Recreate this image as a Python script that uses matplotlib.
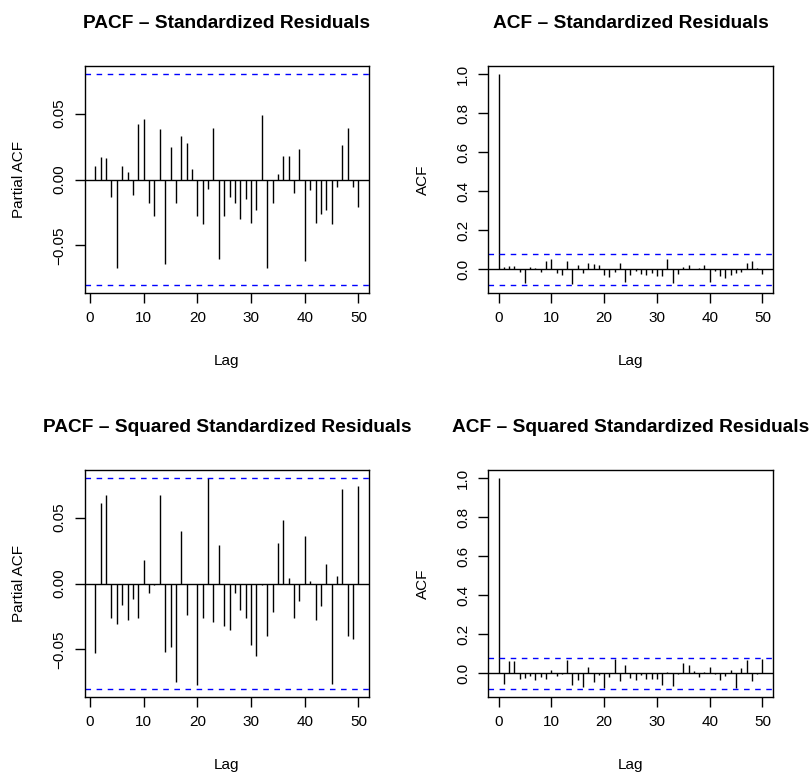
import numpy as np
import matplotlib
matplotlib.use("Agg")
import matplotlib.pyplot as plt

plt.rcParams['font.family'] = ['Liberation Sans', 'DejaVu Sans']

# confidence bound (approx 1.96/sqrt(n))
clim = 0.080

lags_pacf = np.arange(1, 51)
lags_acf = np.arange(0, 51)

pacf_std = [0.010, 0.017, 0.016, -0.013, -0.067, 0.010, 0.006, -0.012, 0.042, 0.046,
            -0.018, -0.028, 0.038, -0.064, 0.025, -0.018, 0.033, 0.028, 0.008, -0.028,
            -0.034, -0.007, 0.039, -0.060, -0.028, -0.013, -0.018, -0.030, -0.015, -0.033,
            -0.023, 0.049, -0.067, -0.018, 0.004, 0.018, 0.018, -0.010, 0.023, -0.062,
            -0.008, -0.033, -0.026, -0.023, -0.034, -0.006, 0.026, 0.039, -0.006, -0.021]

acf_std = [1.0, 0.010, 0.017, 0.017, -0.012, -0.068, 0.010, 0.005, -0.015, 0.044, 0.051,
           -0.017, -0.027, 0.041, -0.073, 0.021, -0.017, 0.034, 0.027, 0.022, -0.029,
           -0.039, -0.014, 0.032, -0.067, -0.027, -0.009, -0.024, -0.027, -0.017, -0.034,
           -0.032, 0.055, -0.068, -0.026, 0.010, 0.024, 0.002, 0.005, 0.021, -0.063,
           -0.007, -0.032, -0.044, -0.029, -0.019, -0.015, 0.034, 0.044, 0.007, -0.022]

pacf_sq = [-0.053, 0.061, 0.067, -0.026, -0.031, -0.016, -0.028, -0.012, -0.026, 0.018,
           -0.007, -0.001, 0.067, -0.052, -0.048, -0.075, 0.040, -0.024, -0.0005, -0.077,
           -0.026, 0.080, -0.029, 0.029, -0.032, -0.035, -0.007, -0.020, -0.026, -0.047,
           -0.055, -0.001, -0.040, -0.022, 0.031, 0.048, 0.004, -0.026, -0.013, 0.036,
           0.002, -0.028, -0.017, 0.015, -0.076, 0.006, 0.072, -0.040, -0.042, 0.074]

acf_sq = [1.0, -0.055, 0.065, 0.062, -0.029, -0.024, -0.015, -0.034, -0.021, -0.031, 0.019,
          -0.014, -0.003, 0.070, -0.060, -0.034, -0.068, 0.031, -0.043, -0.007, -0.074,
          -0.021, 0.072, -0.041, 0.043, -0.022, -0.032, -0.007, -0.031, -0.031, -0.031,
          -0.060, 0.009, -0.067, -0.003, 0.051, 0.041, 0.014, -0.017, 0.009, 0.034,
          -0.003, -0.032, -0.012, 0.015, -0.074, 0.027, 0.067, -0.041, -0.003, 0.072]

W, H = 811, 775
fig = plt.figure(figsize=(W / 100, H / 100), dpi=100)


def px_axes(left, top, right, bottom):
    return fig.add_axes([left / W, 1 - bottom / H, (right - left) / W, (bottom - top) / H])


def draw_panel(ax, lags, vals, title, ylabel, is_acf):
    vals = np.asarray(vals)
    ax.vlines(lags, 0, vals, color='black', lw=1.0)
    ax.axhline(0, color='black', lw=1.0)
    for c in (clim, -clim):
        ax.axhline(c, color='#0000ff', lw=1.0, ls=(0, (4, 4)))
    x0, x1 = lags.min(), lags.max()
    ext = 0.04 * (x1 - x0)
    ax.set_xlim(x0 - ext, x1 + ext)
    if is_acf:
        lo, hi = min(-clim, vals.min()), 1.0
        ax.set_yticks([0.0, 0.2, 0.4, 0.6, 0.8, 1.0])
        ax.set_yticklabels(['0.0', '0.2', '0.4', '0.6', '0.8', '1.0'])
    else:
        lo, hi = min(-clim, vals.min()), max(clim, vals.max())
        ax.set_yticks([-0.05, 0.0, 0.05])
        ax.set_yticklabels(['\u22120.05', '0.00', '0.05'])
    r = hi - lo
    ax.set_ylim(lo - 0.04 * r, hi + 0.04 * r)
    ax.set_xticks([0, 10, 20, 30, 40, 50])
    ax.tick_params(direction='out', length=7, width=1, labelsize=11, pad=6, color='black')
    ax.tick_params(axis='y', labelrotation=90)
    for lbl in ax.get_yticklabels():
        lbl.set_va('center')
    for s in ax.spines.values():
        s.set_linewidth(1.0)
        s.set_color('black')
    ax.set_title(title, fontsize=13.8, fontweight='bold', pad=27)
    ax.set_xlabel('Lag', fontsize=11)
    ax.set_ylabel(ylabel, fontsize=11)


axes_box = [
    (84.8, 65.7, 369.0, 293.3),
    (488.0, 65.7, 773.0, 293.3),
    (84.8, 469.7, 369.0, 697.3),
    (488.0, 469.7, 773.0, 697.3),
]

specs = [
    (lags_pacf, pacf_std, 'PACF \u2013 Standardized Residuals', 'Partial ACF', False),
    (lags_acf, acf_std, 'ACF \u2013 Standardized Residuals', 'ACF', True),
    (lags_pacf, pacf_sq, 'PACF \u2013 Squared Standardized Residuals', 'Partial ACF', False),
    (lags_acf, acf_sq, 'ACF \u2013 Squared Standardized Residuals', 'ACF', True),
]

for box, (lags, vals, title, ylab, is_acf) in zip(axes_box, specs):
    ax = px_axes(*box)
    draw_panel(ax, lags, vals, title, ylab, is_acf)
    l, t, rr, b = box
    ax.xaxis.label.set_va('center')
    ax.xaxis.set_label_coords(0.5, -67.7 / (b - t))
    ax.yaxis.label.set_va('center')
    ylab_x = 19 if l < 400 else 422.5
    ax.yaxis.set_label_coords((ylab_x - l) / (rr - l), 0.5)

fig.savefig('out.png', dpi=100)
